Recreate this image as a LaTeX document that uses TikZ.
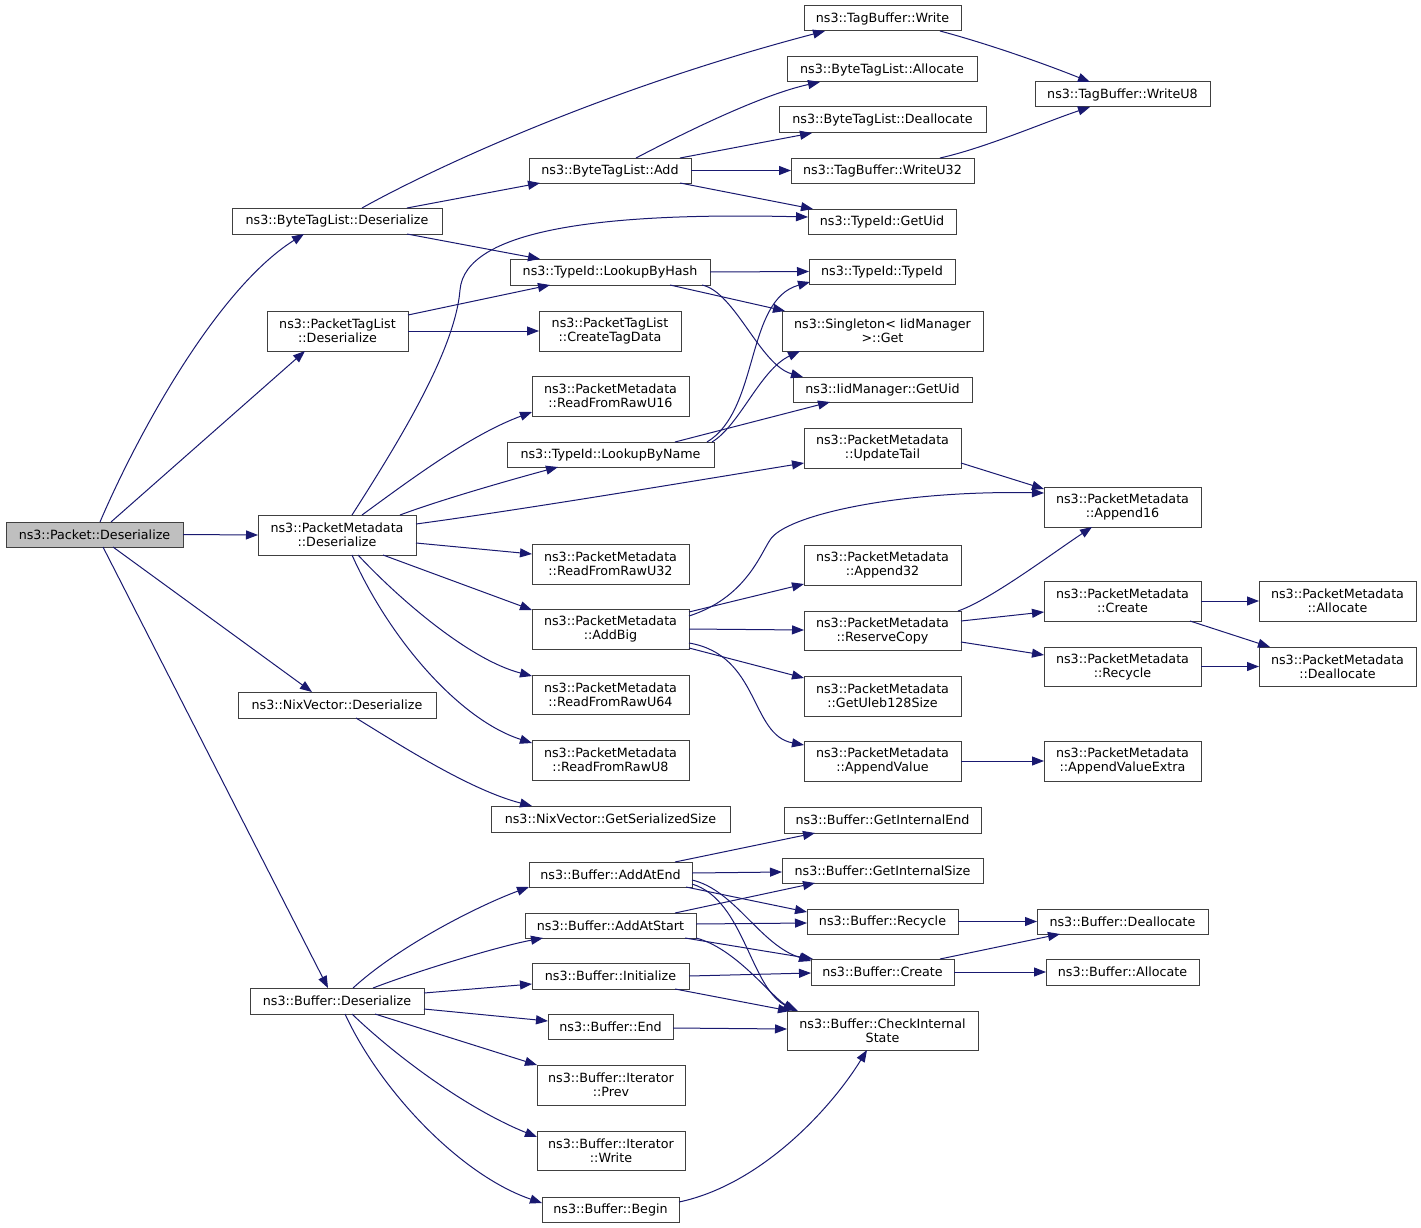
\documentclass[tikz,border=0pt]{standalone}
\usepackage{fontspec}
\setmainfont{DejaVu Sans}
\usetikzlibrary{arrows.meta}
\definecolor{edgec}{RGB}{25,25,112}
\definecolor{boxc}{RGB}{64,64,64}
\definecolor{rootc}{RGB}{191,191,191}
\tikzset{
  box/.style={draw=boxc, line width=1pt, fill=white, anchor=north west, inner sep=0pt, outer sep=0pt, align=center, font=\fontsize{12.7}{14}\selectfont},
  edg/.style={draw=edgec, line width=1pt, -{Triangle[length=12pt,width=9pt]}},
}
\begin{document}
\begin{tikzpicture}[x=1pt,y=-1pt]
\fill[white] (0,0) rectangle (1421,1228);
\useasboundingbox (0,0) rectangle (1421,1228);
% column 0/1
\node[box,fill=rootc,minimum width=177pt,minimum height=25pt] (pkt) at (6,522) {ns3::Packet::Deserialize};
\node[box,minimum width=210pt,minimum height=26pt] (btlD) at (232,208) {ns3::ByteTagList::Deserialize};
\node[box,minimum width=141pt,minimum height=40pt] (ptlD) at (267,311) {ns3::PacketTagList\\::Deserialize};
\node[box,minimum width=158pt,minimum height=40pt] (pmD) at (258,515) {ns3::PacketMetadata\\::Deserialize};
\node[box,minimum width=198pt,minimum height=26pt] (nixD) at (238,692) {ns3::NixVector::Deserialize};
\node[box,minimum width=174pt,minimum height=26pt] (bufD) at (250,988) {ns3::Buffer::Deserialize};
% column 2
\node[box,minimum width=162pt,minimum height=25pt] (btlAdd) at (529,158) {ns3::ByteTagList::Add};
\node[box,minimum width=200pt,minimum height=26pt] (lbh) at (510,259) {ns3::TypeId::LookupByHash};
\node[box,minimum width=142pt,minimum height=40pt] (ctd) at (539,311) {ns3::PacketTagList\\::CreateTagData};
\node[box,minimum width=157pt,minimum height=40pt] (r16) at (532,376) {ns3::PacketMetadata\\::ReadFromRawU16};
\node[box,minimum width=207pt,minimum height=25pt] (lbn) at (507,442) {ns3::TypeId::LookupByName};
\node[box,minimum width=157pt,minimum height=40pt] (r32) at (532,544) {ns3::PacketMetadata\\::ReadFromRawU32};
\node[box,minimum width=157pt,minimum height=40pt] (addBig) at (532,609) {ns3::PacketMetadata\\::AddBig};
\node[box,minimum width=157pt,minimum height=39pt] (r64) at (532,675) {ns3::PacketMetadata\\::ReadFromRawU64};
\node[box,minimum width=157pt,minimum height=40pt] (r8) at (532,740) {ns3::PacketMetadata\\::ReadFromRawU8};
\node[box,minimum width=239pt,minimum height=26pt] (gss) at (491,806) {ns3::NixVector::GetSerializedSize};
\node[box,minimum width=163pt,minimum height=25pt] (addEnd) at (529,862) {ns3::Buffer::AddAtEnd};
\node[box,minimum width=171pt,minimum height=25pt] (addStart) at (525,913) {ns3::Buffer::AddAtStart};
\node[box,minimum width=157pt,minimum height=26pt] (init) at (532,963) {ns3::Buffer::Initialize};
\node[box,minimum width=125pt,minimum height=25pt] (bend) at (548,1014) {ns3::Buffer::End};
\node[box,minimum width=148pt,minimum height=40pt] (prev) at (537,1065) {ns3::Buffer::Iterator\\::Prev};
\node[box,minimum width=148pt,minimum height=39pt] (iwrite) at (537,1131) {ns3::Buffer::Iterator\\::Write};
\node[box,minimum width=137pt,minimum height=25pt] (begin) at (542,1197) {ns3::Buffer::Begin};
% column 3
\node[box,minimum width=157pt,minimum height=25pt] (tbW) at (804,6) {ns3::TagBuffer::Write};
\node[box,minimum width=190pt,minimum height=25pt] (btlAlloc) at (787,57) {ns3::ByteTagList::Allocate};
\node[box,minimum width=207pt,minimum height=26pt] (btlDealloc) at (779,107) {ns3::ByteTagList::Deallocate};
\node[box,minimum width=183pt,minimum height=25pt] (tbU32) at (791,158) {ns3::TagBuffer::WriteU32};
\node[box,minimum width=148pt,minimum height=25pt] (tidUid) at (808,209) {ns3::TypeId::GetUid};
\node[box,minimum width=146pt,minimum height=25pt] (tidT) at (809,259) {ns3::TypeId::TypeId};
\node[box,minimum width=201pt,minimum height=40pt] (single) at (782,311) {ns3::Singleton< IidManager\\ >::Get};
\node[box,minimum width=179pt,minimum height=25pt] (iidUid) at (793,377) {ns3::IidManager::GetUid};
\node[box,minimum width=157pt,minimum height=40pt] (upd) at (804,428) {ns3::PacketMetadata\\::UpdateTail};
\node[box,minimum width=157pt,minimum height=40pt] (app32) at (804,545) {ns3::PacketMetadata\\::Append32};
\node[box,minimum width=157pt,minimum height=39pt] (resv) at (804,611) {ns3::PacketMetadata\\::ReserveCopy};
\node[box,minimum width=157pt,minimum height=40pt] (uleb) at (804,676) {ns3::PacketMetadata\\::GetUleb128Size};
\node[box,minimum width=157pt,minimum height=40pt] (appV) at (804,741) {ns3::PacketMetadata\\::AppendValue};
\node[box,minimum width=197pt,minimum height=26pt] (gie) at (784,807) {ns3::Buffer::GetInternalEnd};
\node[box,minimum width=201pt,minimum height=25pt] (gis) at (782,858) {ns3::Buffer::GetInternalSize};
\node[box,minimum width=151pt,minimum height=25pt] (brec) at (807,909) {ns3::Buffer::Recycle};
\node[box,minimum width=143pt,minimum height=26pt] (bcre) at (811,959) {ns3::Buffer::Create};
\node[box,minimum width=191pt,minimum height=39pt] (cis) at (787,1011) {ns3::Buffer::CheckInternal\\State};
% column 4
\node[box,minimum width=175pt,minimum height=25pt] (tbU8) at (1035,82) {ns3::TagBuffer::WriteU8};
\node[box,minimum width=157pt,minimum height=40pt] (app16) at (1044,487) {ns3::PacketMetadata\\::Append16};
\node[box,minimum width=157pt,minimum height=40pt] (pmCre) at (1044,581) {ns3::PacketMetadata\\::Create};
\node[box,minimum width=157pt,minimum height=39pt] (pmRec) at (1044,647) {ns3::PacketMetadata\\::Recycle};
\node[box,minimum width=157pt,minimum height=40pt] (appVE) at (1044,741) {ns3::PacketMetadata\\::AppendValueExtra};
\node[box,minimum width=171pt,minimum height=25pt] (bdea) at (1037,909) {ns3::Buffer::Deallocate};
\node[box,minimum width=153pt,minimum height=26pt] (ball) at (1046,959) {ns3::Buffer::Allocate};
% column 5
\node[box,minimum width=157pt,minimum height=40pt] (pmAll) at (1259,581) {ns3::PacketMetadata\\::Allocate};
\node[box,minimum width=157pt,minimum height=39pt] (pmDea) at (1259,647) {ns3::PacketMetadata\\::Deallocate};

% edges from Packet::Deserialize
\draw[edg] ([shift={(94,0)}]pkt.north west) .. controls (135,440) and (215,290) .. ([shift={(72,26)}]btlD.north west);
\draw[edg] ([shift={(105,0)}]pkt.north west) -- ([shift={(38,40)}]ptlD.north west);
\draw[edg] (pkt.east) -- (pmD.west);
\draw[edg] ([shift={(107,25)}]pkt.north west) -- ([shift={(74,0)}]nixD.north west);
\draw[edg] ([shift={(97,25)}]pkt.north west) -- ([shift={(78,0)}]bufD.north west);
% ByteTagList::Deserialize
\draw[edg] ([shift={(130,0)}]btlD.north west) .. controls (430,170) and (600,90) .. ([shift={(21,25)}]tbW.north west);
\draw[edg] ([shift={(175,0)}]btlD.north west) -- ([shift={(11,25)}]btlAdd.north west);
\draw[edg] ([shift={(175,26)}]btlD.north west) -- ([shift={(30,0)}]lbh.north west);
% ByteTagList::Add
\draw[edg] ([shift={(107,0)}]btlAdd.north west) .. controls (680,135) and (760,95) .. ([shift={(33,25)}]btlAlloc.north west);
\draw[edg] ([shift={(151,0)}]btlAdd.north west) -- ([shift={(33,26)}]btlDealloc.north west);
\draw[edg] (btlAdd.east) -- (tbU32.west);
\draw[edg] ([shift={(151,25)}]btlAdd.north west) -- ([shift={(5,0)}]tidUid.north west);
% TagBuffer
\draw[edg] ([shift={(136,25)}]tbW.north west) .. controls (985,43) and (1040,62) .. ([shift={(55,0)}]tbU8.north west);
\draw[edg] ([shift={(149,0)}]tbU32.north west) .. controls (985,148) and (1045,122) .. ([shift={(55,25)}]tbU8.north west);
% PacketTagList::Deserialize
\draw[edg] ([shift={(141,4)}]ptlD.north west) -- ([shift={(40,26)}]lbh.north west);
\draw[edg] (ptlD.east) -- (ctd.west);
% LookupByHash
\draw[edg] (lbh.east) -- (tidT.west);
\draw[edg] ([shift={(160,26)}]lbh.north west) -- ([shift={(3,0)}]single.north west);
\draw[edg] ([shift={(192,26)}]lbh.north west) .. controls (735,292) and (760,365) .. ([shift={(10,0)}]iidUid.north west);
% PacketMetadata::Deserialize
\draw[edg] ([shift={(94,0)}]pmD.north west) .. controls (400,440) and (455,350) .. (460,290) .. controls (465,230) and (600,212) .. ([shift={(0,8)}]tidUid.north west);
\draw[edg] ([shift={(104,0)}]pmD.north west) .. controls (410,480) and (470,435) .. ([shift={(0,36)}]r16.north west);
\draw[edg] ([shift={(142,0)}]pmD.north west) .. controls (440,500) and (510,480) .. ([shift={(51,25)}]lbn.north west);
\draw[edg] ([shift={(158,9)}]pmD.north west) .. controls (520,510) and (700,480) .. ([shift={(0,35)}]upd.north west);
\draw[edg] ([shift={(158,28)}]pmD.north west) -- ([shift={(0,10)}]r32.north west);
\draw[edg] ([shift={(125,40)}]pmD.north west) -- ([shift={(0,1)}]addBig.north west);
\draw[edg] ([shift={(100,40)}]pmD.north west) .. controls (400,600) and (470,660) .. ([shift={(0,1)}]r64.north west);
\draw[edg] ([shift={(94,40)}]pmD.north west) .. controls (390,640) and (460,720) .. ([shift={(0,3)}]r8.north west);
% LookupByName
\draw[edg] ([shift={(200,0)}]lbn.north west) .. controls (760,410) and (745,300) .. ([shift={(1,23)}]tidT.north west);
\draw[edg] ([shift={(205,0)}]lbn.north west) .. controls (740,425) and (760,370) .. ([shift={(18,40)}]single.north west);
\draw[edg] ([shift={(168,0)}]lbn.north west) -- ([shift={(37,25)}]iidUid.north west);
% UpdateTail / AddBig
\draw[edg] ([shift={(157,35)}]upd.north west) -- ([shift={(0,2)}]app16.north west);
\draw[edg] ([shift={(157,7)}]addBig.north west) .. controls (745,598) and (760,555) .. (770,540) .. controls (785,515) and (900,490) .. ([shift={(0,6)}]app16.north west);
\draw[edg] ([shift={(157,3)}]addBig.north west) -- ([shift={(0,39)}]app32.north west);
\draw[edg] ([shift={(157,20)}]addBig.north west) -- ([shift={(0,19)}]resv.north west);
\draw[edg] ([shift={(157,39)}]addBig.north west) -- ([shift={(0,2)}]uleb.north west);
\draw[edg] ([shift={(157,34)}]addBig.north west) .. controls (760,655) and (750,735) .. ([shift={(0,4)}]appV.north west);
% ReserveCopy etc.
\draw[edg] ([shift={(154,0)}]resv.north west) .. controls (990,600) and (1050,555) .. ([shift={(48,40)}]app16.north west);
\draw[edg] ([shift={(157,10)}]resv.north west) -- ([shift={(0,31)}]pmCre.north west);
\draw[edg] ([shift={(157,31)}]resv.north west) -- ([shift={(0,8)}]pmRec.north west);
\draw[edg] (pmCre.east) -- (pmAll.west);
\draw[edg] ([shift={(146,40)}]pmCre.north west) -- ([shift={(11,0)}]pmDea.north west);
\draw[edg] (pmRec.east) -- (pmDea.west);
\draw[edg] (appV.east) -- (appVE.west);
% NixVector
\draw[edg] ([shift={(118,26)}]nixD.north west) .. controls (400,745) and (470,790) .. ([shift={(41,0)}]gss.north west);
% Buffer::Deserialize
\draw[edg] ([shift={(103,0)}]bufD.north west) .. controls (400,945) and (480,905) .. ([shift={(0,25)}]addEnd.north west);
\draw[edg] ([shift={(123,0)}]bufD.north west) .. controls (420,970) and (500,946) .. ([shift={(18,25)}]addStart.north west);
\draw[edg] ([shift={(174,5)}]bufD.north west) -- ([shift={(0,21)}]init.north west);
\draw[edg] ([shift={(174,21)}]bufD.north west) -- ([shift={(0,7)}]bend.north west);
\draw[edg] ([shift={(125,26)}]bufD.north west) -- (prev.north west);
\draw[edg] ([shift={(102,26)}]bufD.north west) .. controls (400,1060) and (470,1110) .. ([shift={(0,6)}]iwrite.north west);
\draw[edg] ([shift={(95,26)}]bufD.north west) .. controls (380,1090) and (460,1175) .. ([shift={(0,6)}]begin.north west);
% AddAtEnd
\draw[edg] ([shift={(146,0)}]addEnd.north west) -- ([shift={(31,26)}]gie.north west);
\draw[edg] ([shift={(163,11)}]addEnd.north west) -- ([shift={(0,14)}]gis.north west);
\draw[edg] ([shift={(157,25)}]addEnd.north west) -- ([shift={(0,3)}]brec.north west);
\draw[edg] ([shift={(163,18)}]addEnd.north west) .. controls (735,890) and (760,945) .. ([shift={(0,2)}]bcre.north west);
\draw[edg] ([shift={(163,22)}]addEnd.north west) .. controls (745,900) and (750,990) .. ([shift={(11,0)}]cis.north west);
% AddAtStart
\draw[edg] ([shift={(150,0)}]addStart.north west) -- ([shift={(33,25)}]gis.north west);
\draw[edg] ([shift={(171,11)}]addStart.north west) -- ([shift={(0,14)}]brec.north west);
\draw[edg] ([shift={(160,25)}]addStart.north west) -- ([shift={(2,0)}]bcre.north west);
\draw[edg] ([shift={(171,25)}]addStart.north west) .. controls (735,948) and (770,995) .. ([shift={(8,0)}]cis.north west);
% Initialize / End / Begin
\draw[edg] ([shift={(157,13)}]init.north west) -- ([shift={(0,14)}]bcre.north west);
\draw[edg] ([shift={(143,26)}]init.north west) -- ([shift={(3,0)}]cis.north west);
\draw[edg] ([shift={(125,14)}]bend.north west) -- ([shift={(0,18)}]cis.north west);
\draw[edg] ([shift={(137,5)}]begin.north west) .. controls (760,1185) and (830,1110) .. ([shift={(80,39)}]cis.north west);
% Recycle / Create
\draw[edg] (brec.east) -- (bdea.west);
\draw[edg] ([shift={(129,0)}]bcre.north west) -- ([shift={(23,25)}]bdea.north west);
\draw[edg] (bcre.east) -- (ball.west);
\end{tikzpicture}
\end{document}
